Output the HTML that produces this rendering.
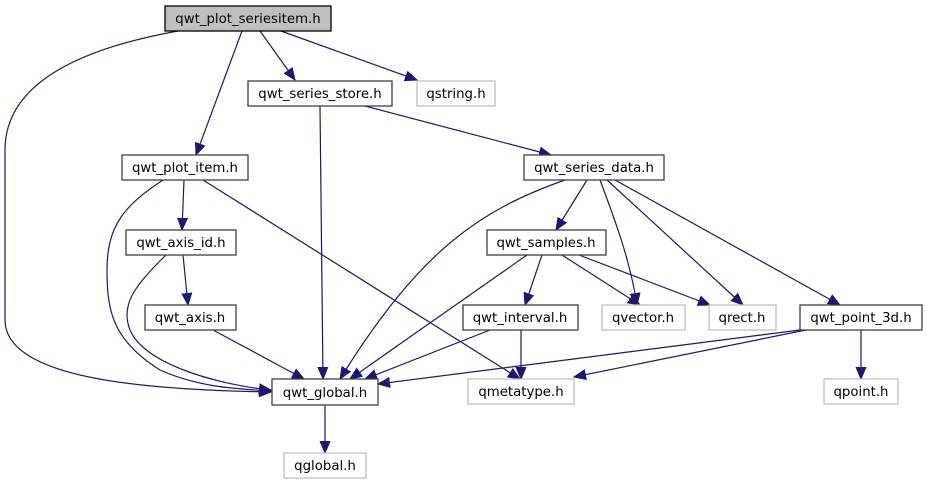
<!DOCTYPE html>
<html><head><meta charset="utf-8"><style>
html,body{margin:0;padding:0;background:#fff}
svg{display:block}
text{font-family:"DejaVu Sans","Liberation Sans",sans-serif;font-size:13.3px;fill:#000;text-anchor:middle}
.n{fill:#fff;stroke:#404040;stroke-width:1.3}
.g{fill:#fff;stroke:#bfbfbf;stroke-width:1.3}
.e{fill:none;stroke:#191970;stroke-width:1.2;marker-end:url(#a)}
</style></head><body>
<svg width="927" height="485" viewBox="0 0 927 485">
<defs><marker id="a" markerWidth="14" markerHeight="12" refX="12" refY="6" orient="auto" markerUnits="userSpaceOnUse"><path d="M0,1 L12,6 L0,11 Z" fill="#191970" stroke="#191970"/></marker></defs>
<path class="e" d="M178,31 C100,45 5,75 5,150 L5,320 C5,380 150,390 271,392"/>
<path class="e" d="M242,31 L196,155"/>
<path class="e" d="M260,31 L295,80"/>
<path class="e" d="M281,31 L417,80"/>
<path class="e" d="M320,106 L323,379"/>
<path class="e" d="M365,106 L551,155"/>
<path class="e" d="M184,180 L182,230"/>
<path class="e" d="M163,180 C125,205 107,225 107,270 C107,310 112,340 160,370 C200,388 240,389 271,391"/>
<path class="e" d="M203,180 L520,379"/>
<path class="e" d="M565,180 C480,210 420,250 340,379"/>
<path class="e" d="M587,180 L556,230"/>
<path class="e" d="M600,180 C615,220 630,260 637,305"/>
<path class="e" d="M607,180 L743,305"/>
<path class="e" d="M615,180 L840,305"/>
<path class="e" d="M183,255 L188,305"/>
<path class="e" d="M166,255 C135,285 120,305 130,330 C145,365 220,385 271,390"/>
<path class="e" d="M213,330 L304,379"/>
<path class="e" d="M527,255 L350,379"/>
<path class="e" d="M542,255 L525,305"/>
<path class="e" d="M562,255 L640,305"/>
<path class="e" d="M579,255 L710,305"/>
<path class="e" d="M490,330 L365,379"/>
<path class="e" d="M521,330 L521,379"/>
<path class="e" d="M800,330 L378,384"/>
<path class="e" d="M806,330 L574,377"/>
<path class="e" d="M861,330 L861,379"/>
<path class="e" d="M325,405 L325,453"/>

<rect x="165" y="6" width="166" height="25" fill="#bfbfbf" stroke="#000" stroke-width="1.3"/>
<text x="248" y="23">qwt_plot_seriesitem.h</text>
<rect class="n" x="248" y="81" width="144" height="25"/><text x="320" y="98">qwt_series_store.h</text>
<rect class="g" x="417" y="81" width="78" height="25"/><text x="456" y="98">qstring.h</text>
<rect class="n" x="122" y="155" width="126" height="25"/><text x="185" y="172">qwt_plot_item.h</text>
<rect class="n" x="524" y="155" width="140" height="25"/><text x="594" y="172">qwt_series_data.h</text>
<rect class="n" x="126" y="230" width="110" height="25"/><text x="181" y="247">qwt_axis_id.h</text>
<rect class="n" x="487" y="230" width="119" height="25"/><text x="546" y="247">qwt_samples.h</text>
<rect class="n" x="145" y="305" width="91" height="25"/><text x="190" y="322">qwt_axis.h</text>
<rect class="n" x="463" y="305" width="115" height="25"/><text x="520" y="322">qwt_interval.h</text>
<rect class="g" x="602" y="305" width="83" height="25"/><text x="643" y="322">qvector.h</text>
<rect class="g" x="709" y="305" width="67" height="25"/><text x="742" y="322">qrect.h</text>
<rect class="n" x="800" y="305" width="122" height="25"/><text x="861" y="322">qwt_point_3d.h</text>
<rect class="n" x="272" y="379" width="106" height="26"/><text x="325" y="397">qwt_global.h</text>
<rect class="g" x="468" y="379" width="106" height="25"/><text x="521" y="396">qmetatype.h</text>
<rect class="g" x="824" y="379" width="74" height="25"/><text x="861" y="396">qpoint.h</text>
<rect class="g" x="284" y="453" width="82" height="25"/><text x="325" y="470">qglobal.h</text>
</svg>
</body></html>
